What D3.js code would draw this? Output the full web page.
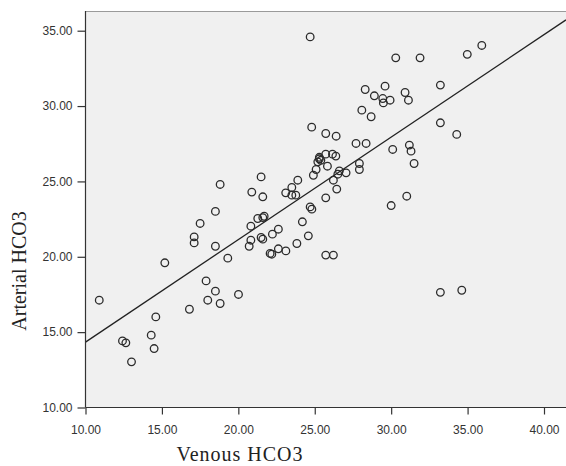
<!DOCTYPE html>
<html>
<head>
<meta charset="utf-8">
<script src="https://cdnjs.cloudflare.com/ajax/libs/d3/7.8.5/d3.min.js"></script>
<style>
  body { margin: 0; background: #fff; }
  svg { display: block; }
  .tick text { font-family: "Liberation Sans", Arial, sans-serif; font-size: 12px; fill: #333; }
  .title { font-family: "Liberation Serif", "Times New Roman", serif; font-size: 20px; fill: #222; }
</style>
</head>
<body>
<div id="chart"></div>
<script>
// venous vs arterial HCO3
var venous = [
  18.81, 20.88, 18.50, 17.50, 17.11, 17.11, 18.50, 20.82, 20.82, 20.71,
  19.31, 15.19, 10.90, 17.89, 18.50, 18.00, 18.81, 20.01, 16.80, 14.60,
  12.42, 12.64, 14.30, 14.49, 13.01, 24.80, 25.72, 26.40, 27.70, 28.36,
  21.49, 21.60, 23.89, 23.10, 23.50, 23.50, 23.76, 24.91, 25.09, 25.20,
  25.30, 25.40, 25.30, 25.72, 26.16, 26.38, 25.83, 26.61, 27.05, 26.51,
  26.22, 26.44, 25.72, 27.92, 27.92, 24.70, 24.81, 24.19, 21.27, 21.60,
  21.69, 22.62, 22.23, 21.49, 21.60, 24.58, 23.83, 23.11, 22.62, 22.08,
  22.19, 25.72, 26.22, 24.70, 28.30, 28.90, 28.08, 28.69, 30.30, 31.89,
  34.98, 35.93, 29.60, 29.45, 29.49, 29.93, 30.91, 31.13, 33.22, 30.10,
  31.19, 31.30, 31.50, 33.22, 34.29, 31.02, 30.00, 33.22, 34.62
];
var arterial = [
  24.80, 24.29, 23.01, 22.21, 21.32, 20.92, 20.70, 22.03, 21.10, 20.70,
  19.91, 19.60, 17.12, 18.40, 17.72, 17.12, 16.90, 17.50, 16.52, 16.01,
  14.42, 14.29, 14.80, 13.91, 13.03, 28.60, 28.18, 28.00, 27.52, 27.52,
  25.30, 23.98, 25.08, 24.24, 24.60, 24.09, 24.09, 25.41, 25.79, 26.30,
  26.50, 26.40, 26.60, 26.81, 26.81, 26.68, 26.01, 25.70, 25.57, 25.48,
  25.08, 24.49, 23.91, 26.19, 25.79, 23.31, 23.16, 22.32, 22.54, 22.60,
  22.69, 21.83, 21.50, 21.28, 21.17, 21.39, 20.88, 20.39, 20.53, 20.22,
  20.17, 20.11, 20.11, 34.59, 31.10, 30.68, 29.73, 29.29, 33.20, 33.20,
  33.43, 34.02, 31.32, 30.50, 30.21, 30.39, 30.90, 30.39, 31.39, 27.12,
  27.41, 27.01, 26.19, 28.89, 28.12, 24.02, 23.40, 17.64, 17.78
];
var xTicks = [10, 15, 20, 25, 30, 35, 40];
var yTicks = [10, 15, 20, 25, 30, 35];
// fit line: [intercept, slope]
var fitLine = [7.54, 0.68];

var width = 566, height = 466;
var plot = { left: 85.5, right: 566, top: 11, bottom: 407.5 };

var x = d3.scaleLinear().domain([10, 40]).range([85.5, 544]);
var y = d3.scaleLinear().domain([10, 35]).range([407.5, 30.7]);

var svg = d3.select('#chart').append('svg')
  .attr('width', width)
  .attr('height', height);

svg.append('rect')
  .attr('x', plot.left)
  .attr('y', plot.top)
  .attr('width', plot.right - plot.left)
  .attr('height', plot.bottom - plot.top)
  .attr('fill', '#f0f0f0');

svg.append('line')
  .attr('x1', plot.left).attr('x2', plot.right)
  .attr('y1', plot.top + 0.5).attr('y2', plot.top + 0.5)
  .attr('stroke', '#9a9a9a');

// fit line across the visible x range
var xMax = x.invert(plot.right);
svg.append('line')
  .attr('x1', x(10)).attr('y1', y(fitLine[0] + fitLine[1] * 10))
  .attr('x2', x(xMax)).attr('y2', y(fitLine[0] + fitLine[1] * xMax))
  .attr('stroke', '#222')
  .attr('stroke-width', 1.3);

var pts = venous.map(function(v, i) { return { v: v, a: arterial[i] }; });

svg.append('g').selectAll('circle')
  .data(pts)
  .enter()
  .append('circle')
    .attr('cx', function(d) { return x(d.v); })
    .attr('cy', function(d) { return y(d.a); })
    .attr('r', 3.8)
    .attr('fill', 'none')
    .attr('stroke', '#2b2b2b')
    .attr('stroke-width', 1.3);

var xAxis = svg.append('g')
  .attr('transform', 'translate(0,' + plot.bottom + ')')
  .call(d3.axisBottom(x).tickValues(xTicks).tickFormat(d3.format('.2f'))
    .tickSize(7).tickPadding(11).tickSizeOuter(0));

var yAxis = svg.append('g')
  .attr('transform', 'translate(' + plot.left + ',0)')
  .call(d3.axisLeft(y).tickValues(yTicks).tickFormat(d3.format('.2f'))
    .tickSize(8).tickPadding(5).tickSizeOuter(0));

[xAxis, yAxis].forEach(function(g) {
  g.select('.domain').remove();
  g.selectAll('.tick line').attr('stroke', '#333').attr('stroke-width', 1.2);
});

// axis lines
svg.append('line')
  .attr('x1', plot.left).attr('x2', plot.left)
  .attr('y1', plot.top).attr('y2', plot.bottom)
  .attr('stroke', '#333').attr('stroke-width', 1.2);
svg.append('line')
  .attr('x1', plot.left).attr('x2', plot.right)
  .attr('y1', plot.bottom).attr('y2', plot.bottom)
  .attr('stroke', '#333').attr('stroke-width', 1.2);

svg.append('text')
  .attr('class', 'title')
  .attr('x', 240)
  .attr('y', 461)
  .attr('text-anchor', 'middle')
  .style('letter-spacing', '1px')
  .text('Venous HCO3');

svg.append('text')
  .attr('class', 'title')
  .attr('transform', 'translate(26,271) rotate(-90)')
  .attr('text-anchor', 'middle')
  .text('Arterial HCO3');
</script>
</body>
</html>
